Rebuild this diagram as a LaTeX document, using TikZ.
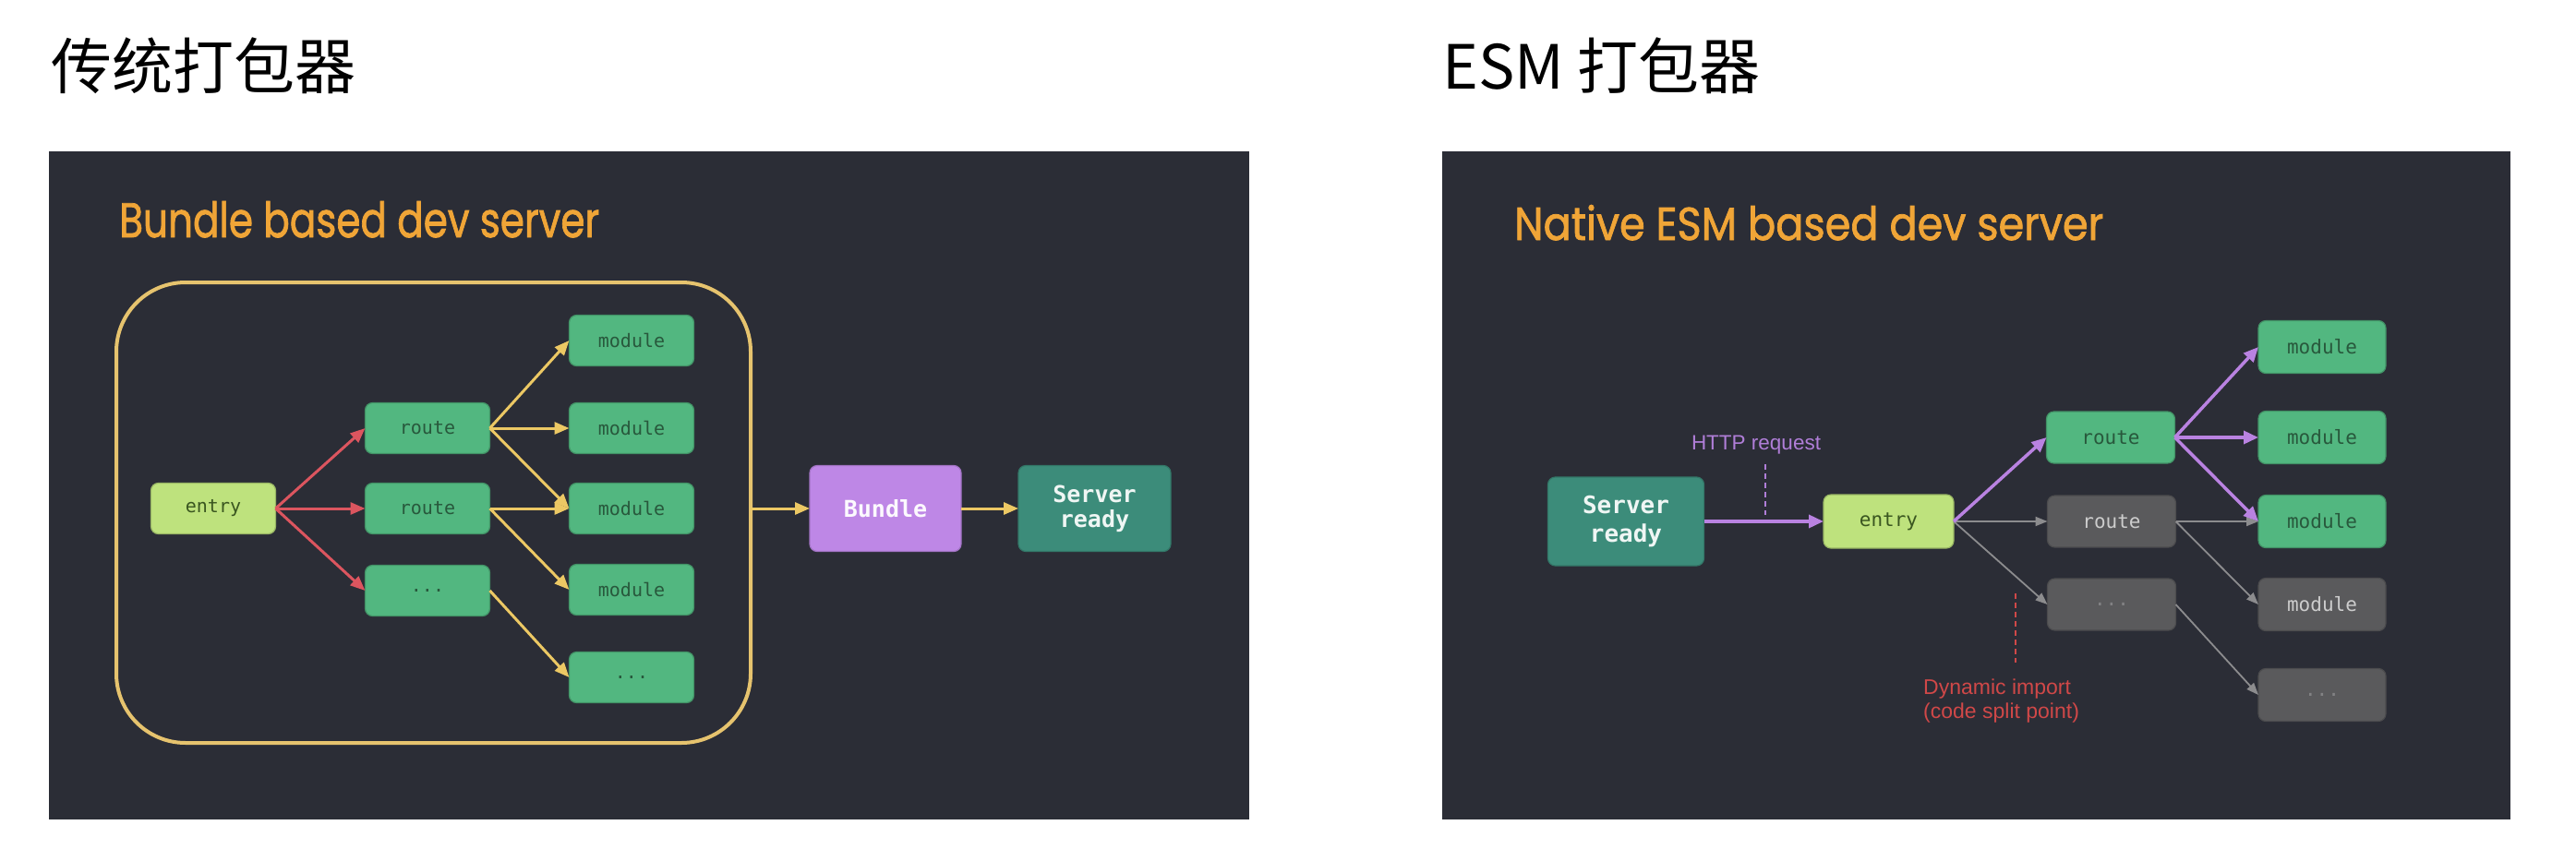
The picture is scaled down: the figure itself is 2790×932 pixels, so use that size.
\documentclass[tikz,border=0pt]{standalone}
\usepackage{fontspec}
\setmainfont{Liberation Sans}
\newfontfamily\cjkfont{Noto Sans CJK SC}
\newfontfamily\titlefont[BoldFont={Poppins},BoldFeatures={FakeBold=1.6}]{Poppins}
\newfontfamily\monofont{DejaVu Sans Mono}
\usetikzlibrary{arrows.meta}
\definecolor{panelbg}{RGB}{43,45,54}
\definecolor{modgreen}{RGB}{82,183,128}
\definecolor{modtext}{RGB}{40,88,60}
\definecolor{entrygreen}{RGB}{190,226,125}
\definecolor{entrytext}{RGB}{58,86,32}
\definecolor{bundlepurple}{RGB}{190,135,230}
\definecolor{serverteal}{RGB}{60,140,122}
\definecolor{grayboxc}{RGB}{90,90,92}
\definecolor{graytext}{RGB}{205,205,205}
\definecolor{dimtext}{RGB}{130,130,132}
\definecolor{arrred}{RGB}{220,85,95}
\definecolor{arryellow}{RGB}{236,200,100}
\definecolor{contyellow}{RGB}{230,195,110}
\definecolor{arrpurple}{RGB}{185,130,225}
\definecolor{arrgray}{RGB}{140,140,142}
\definecolor{titleorange}{RGB}{240,165,55}
\definecolor{httppurple}{RGB}{176,126,216}
\definecolor{dynred}{RGB}{208,72,72}
\tikzset{
  basebox/.style={rounded corners=8pt, inner sep=0pt, outer sep=0pt, align=center, line width=1.2pt},
  modbox/.style={basebox, fill=modgreen, draw=modgreen!80!black, text=modtext,
    font=\monofont\fontsize{20}{24}\selectfont, minimum width=135pt, minimum height=55pt},
  rmodbox/.style={modbox, minimum width=138pt, minimum height=57pt, font=\monofont\fontsize{21}{24}\selectfont},
  entrybox/.style={basebox, fill=entrygreen, draw=entrygreen!80!black, text=entrytext,
    font=\monofont\fontsize{20}{24}\selectfont, minimum width=135pt, minimum height=55pt},
  graybox/.style={basebox, fill=grayboxc, draw=grayboxc!85!black, text=graytext,
    font=\monofont\fontsize{21}{24}\selectfont, minimum width=138pt, minimum height=57pt},
  dimbox/.style={graybox, text=dimtext},
  bundlebox/.style={basebox, fill=bundlepurple, draw=bundlepurple!85!black, text=white!95!bundlepurple,
    font=\monofont\bfseries\fontsize{25}{27}\selectfont, minimum width=164pt, minimum height=93pt},
  serverbox/.style={basebox, fill=serverteal, draw=serverteal!85!black, text=white!92!serverteal,
    font=\monofont\bfseries\fontsize{25}{27}\selectfont, minimum width=165pt, minimum height=93pt},
  redarr/.style={draw=arrred, line width=3pt, -{Triangle[length=16pt,width=13pt]}},
  yelarr/.style={draw=arryellow, line width=3pt, -{Triangle[length=16pt,width=13pt]}},
  purarr/.style={draw=arrpurple, line width=3.5pt, -{Triangle[length=16pt,width=14pt]}},
  grayarr/.style={draw=arrgray, line width=1.8pt, -{Triangle[length=13pt,width=10pt]}},
  paneltitle/.style={anchor=base west, inner sep=0pt, text=titleorange},
  cjktitle/.style={anchor=base west, inner sep=0pt, text=black, font=\cjkfont\fontsize{66}{70}\selectfont},
}
\begin{document}
\begin{tikzpicture}[x=1pt,y=-1pt]
\useasboundingbox (0,0) rectangle (2790,932);
\fill[white] (0,0) rectangle (2790,932);
% panels
\fill[panelbg] (53,164) rectangle (1353,888);
\fill[panelbg] (1562,164) rectangle (2719,888);
% top titles
\node[cjktitle] (tleft) at (55,96) {传统打包器};
\node[cjktitle] (tright) at (1562,96) {ESM 打包器};
% panel titles
\node[paneltitle] (ptl) at (129,257) {\resizebox{520pt}{39pt}{\titlefont\bfseries Bundle based dev server}};
\node[paneltitle] (ptr) at (1640,260) {\resizebox{638pt}{38pt}{\titlefont\bfseries Native ESM based dev server}};

% ---------- left panel ----------
\node[draw=contyellow, line width=4pt, rounded corners=75pt, minimum width=687pt, minimum height=499pt, inner sep=0pt, outer sep=0pt] (cont) at (469.5,555.5) {};
\node[entrybox] (Lentry) at (231,551) {entry};
\node[modbox] (Lr1) at (463,464) {route};
\node[modbox] (Lr2) at (463,551) {route};
\node[modbox] (Lr3) at (463,640) {...};
\node[modbox] (Lm1) at (684,369) {module};
\node[modbox] (Lm2) at (684,464) {module};
\node[modbox] (Lm3) at (684,551) {module};
\node[modbox] (Lm4) at (684,639) {module};
\node[modbox] (Lm5) at (684,734) {...};
\node[bundlebox] (Lbundle) at (959,551) {Bundle};
\node[serverbox] (Lserver) at (1185.5,551) {Server\\ready};

\draw[redarr] (Lentry.east) -- (Lr1.west);
\draw[redarr] (Lentry.east) -- (Lr2.west);
\draw[redarr] (Lentry.east) -- (Lr3.west);
\draw[yelarr] (Lr1.east) -- (Lm1.west);
\draw[yelarr] (Lr1.east) -- (Lm2.west);
\draw[yelarr] (Lr1.east) -- (Lm3.west);
\draw[yelarr] (Lr2.east) -- (Lm3.west);
\draw[yelarr] (Lr2.east) -- (Lm4.west);
\draw[yelarr] (Lr3.east) -- (Lm5.west);
\draw[yelarr] (cont.east |- Lbundle.west) -- (Lbundle.west);
\draw[yelarr] (Lbundle.east) -- (Lserver.west);

% ---------- right panel ----------
\node[serverbox, minimum width=169pt, minimum height=96pt, font=\monofont\bfseries\fontsize{26}{31}\selectfont] (Rserver) at (1761,565) {Server\\ready};
\node[entrybox, minimum width=141pt, minimum height=58pt, font=\monofont\fontsize{21}{24}\selectfont] (Rentry) at (2045.5,565) {entry};
\node[rmodbox, minimum width=139pt, minimum height=56pt] (Rr1) at (2286,474) {route};
\node[graybox, minimum width=139pt, minimum height=56pt] (Rr2) at (2287,565) {route};
\node[dimbox, minimum width=139pt, minimum height=56pt] (Rr3) at (2287,655) {...};
\node[rmodbox] (Rm1) at (2515,376) {module};
\node[rmodbox] (Rm2) at (2515,474) {module};
\node[rmodbox] (Rm3) at (2515,565) {module};
\node[graybox] (Rm4) at (2515,655) {module};
\node[dimbox] (Rm5) at (2515,753) {...};

\draw[grayarr] (Rentry.east) -- (Rr2.west);
\draw[grayarr] (Rentry.east) -- (Rr3.west);
\draw[grayarr] (Rr2.east) -- (Rm3.west);
\draw[grayarr] (Rr2.east) -- (Rm4.west);
\draw[grayarr] (Rr3.east) -- (Rm5.west);
\draw[purarr] (Rserver.east) -- (Rentry.west);
\draw[purarr] (Rentry.east) -- (Rr1.west);
\draw[purarr] (Rr1.east) -- (Rm1.west);
\draw[purarr] (Rr1.east) -- (Rm2.west);
\draw[purarr] (Rr1.east) -- (Rm3.west);

% labels
\node[text=httppurple, font=\fontsize{22.5}{26}\selectfont, inner sep=0pt] (http) at (1902,482) {HTTP request};
\coordinate (httpA) at (1912,503);
\coordinate (httpB) at (1912,558);
\draw[httppurple, line width=2pt, dash pattern=on 6pt off 4pt] (httpA) -- (httpB);
\node[text=dynred, font=\fontsize{23}{26}\selectfont, inner sep=0pt, align=left, anchor=north west] (dyn) at (2083,736) {Dynamic import\\(code split point)};
\coordinate (dynA) at (2183,643);
\coordinate (dynB) at (2183,718);
\draw[dynred, line width=2pt, dash pattern=on 6pt off 4pt] (dynA) -- (dynB);
\end{tikzpicture}
\end{document}
